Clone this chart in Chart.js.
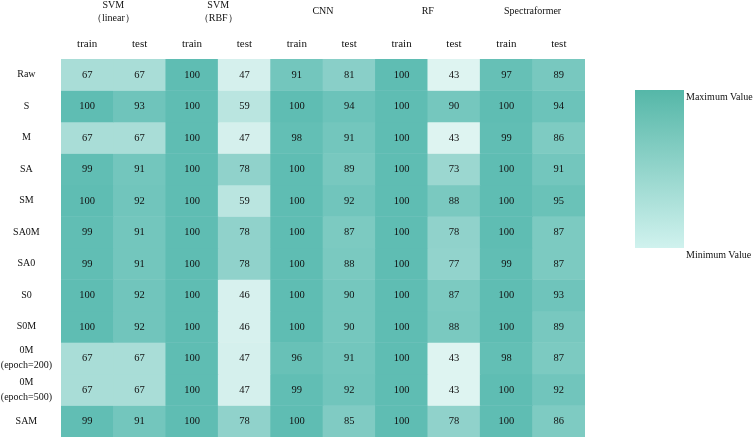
<!DOCTYPE html>
<html>
<head>
<meta charset="utf-8">
<script src="https://cdn.jsdelivr.net/npm/chart.js@4"></script>
<style>
  body { margin: 0; background: #fff; }
  #wrap { position: relative; width: 756px; height: 439px; font-family: "Liberation Serif", serif; }
  #scale { position: absolute; left: 635px; top: 90px; width: 49px; height: 158px;
           background: linear-gradient(to bottom, rgb(85,183,168), rgb(208,242,238)); }
  .lbl { position: absolute; left: 686px; font-size: 10px; line-height: 12px; color: #111; white-space: nowrap; }
</style>
</head>
<body>
<div id="wrap">
  <canvas id="heat" width="756" height="439"></canvas>
  <div id="scale"></div>
  <div class="lbl" style="top:91px">Maximum Value</div>
  <div class="lbl" style="top:249px">Minimum Value</div>
</div>
<script>
// Row and column labels
const rows = ['Raw', 'S', 'M', 'SA', 'SM', 'SA0M', 'SA0', 'S0', 'S0M',
  ['0M', '(epoch=200)'], ['0M', '(epoch=500)'], 'SAM'];
const splits = ['train', 'test', 'train', 'test', 'train', 'test', 'train', 'test', 'train', 'test'];
const models = [['SVM', '（linear）'], ['SVM', '（RBF）'], 'CNN', 'RF', 'Spectraformer'];

// Accuracy per column, in row order
const svmLinearTrain = [67, 100, 67, 99, 100, 99, 99, 100, 100, 67, 67, 99];
const svmLinearTest  = [67, 93, 67, 91, 92, 91, 91, 92, 92, 67, 67, 91];
const svmRbfTrain    = [100, 100, 100, 100, 100, 100, 100, 100, 100, 100, 100, 100];
const svmRbfTest     = [47, 59, 47, 78, 59, 78, 78, 46, 46, 47, 47, 78];
const cnnTrain       = [91, 100, 98, 100, 100, 100, 100, 100, 100, 96, 99, 100];
const cnnTest        = [81, 94, 91, 89, 92, 87, 88, 90, 90, 91, 92, 85];
const rfTrain        = [100, 100, 100, 100, 100, 100, 100, 100, 100, 100, 100, 100];
const rfTest         = [43, 90, 43, 73, 88, 78, 77, 87, 88, 43, 43, 78];
const sfTrain        = [97, 100, 99, 100, 100, 100, 99, 100, 100, 98, 100, 100];
const sfTest         = [89, 94, 86, 91, 95, 87, 87, 93, 89, 87, 92, 86];

const columns = [svmLinearTrain, svmLinearTest, svmRbfTrain, svmRbfTest, cnnTrain,
  cnnTest, rfTrain, rfTest, sfTrain, sfTest];

// Color scale from min to max value
const minVal = 43, maxVal = 100;
const lowColor = [222, 244, 241];
const highColor = [95, 189, 179];

function cellColor(v) {
  const t = (v - minVal) / (maxVal - minVal);
  const c = lowColor.map((lo, i) => Math.round(lo + (highColor[i] - lo) * t));
  return 'rgb(' + c.join(',') + ')';
}

const family = '"Liberation Serif", "Times New Roman", serif';

const datasets = rows.map((r, ri) => ({
  label: Array.isArray(r) ? r.join(' ') : r,
  data: columns.map(() => [ri, ri + 1]),
  backgroundColor: columns.map(col => cellColor(col[ri])),
  borderWidth: 0,
  barPercentage: 1,
  categoryPercentage: 1,
  grouped: false
}));

// Draw the number inside each cell
const cellText = {
  id: 'cellText',
  afterDatasetsDraw(chart) {
    const ctx = chart.ctx;
    ctx.save();
    ctx.font = '10.5px ' + family;
    ctx.fillStyle = '#111';
    ctx.textAlign = 'center';
    ctx.textBaseline = 'middle';
    chart.data.datasets.forEach((ds, ri) => {
      chart.getDatasetMeta(ri).data.forEach((bar, ci) => {
        const p = bar.getCenterPoint();
        ctx.fillText(columns[ci][ri], p.x, p.y);
      });
    });
    ctx.restore();
  }
};

new Chart(document.getElementById('heat'), {
  type: 'bar',
  data: { labels: splits, datasets: datasets },
  plugins: [cellText],
  options: {
    responsive: false,
    animation: false,
    layout: { padding: { right: 171, bottom: 2, top: 0, left: 0 } },
    plugins: { legend: { display: false }, tooltip: { enabled: false } },
    scales: {
      x: {
        position: 'top',
        weight: 0,
        grid: { display: false, drawTicks: false },
        border: { display: false },
        ticks: { font: { family: family, size: 11 }, color: '#111', padding: 8, maxRotation: 0 },
        afterFit(s) { s.height = 30; s.paddingLeft = 0; s.paddingRight = 0; }
      },
      x2: {
        type: 'category',
        position: 'top',
        weight: 1,
        labels: models,
        offset: true,
        grid: { display: false, drawTicks: false },
        border: { display: false },
        ticks: { font: { family: family, size: 10, lineHeight: 1.25 }, color: '#111', padding: 11,
                 crossAlign: 'center', maxRotation: 0, autoSkip: false },
        afterFit(s) { s.height = 29; s.paddingLeft = 0; s.paddingRight = 0; }
      },
      y: {
        type: 'linear',
        display: false,
        reverse: true,
        min: 0,
        max: rows.length
      },
      y2: {
        type: 'category',
        position: 'left',
        labels: rows,
        offset: true,
        grid: { display: false, drawTicks: false },
        border: { display: false },
        ticks: { font: { family: family, size: 10, lineHeight: 1.5 }, color: '#111', padding: 9,
                 crossAlign: 'center', autoSkip: false },
        afterFit(s) { s.width = 61; s.paddingTop = 0; s.paddingBottom = 0; }
      }
    }
  }
});
</script>
</body>
</html>
